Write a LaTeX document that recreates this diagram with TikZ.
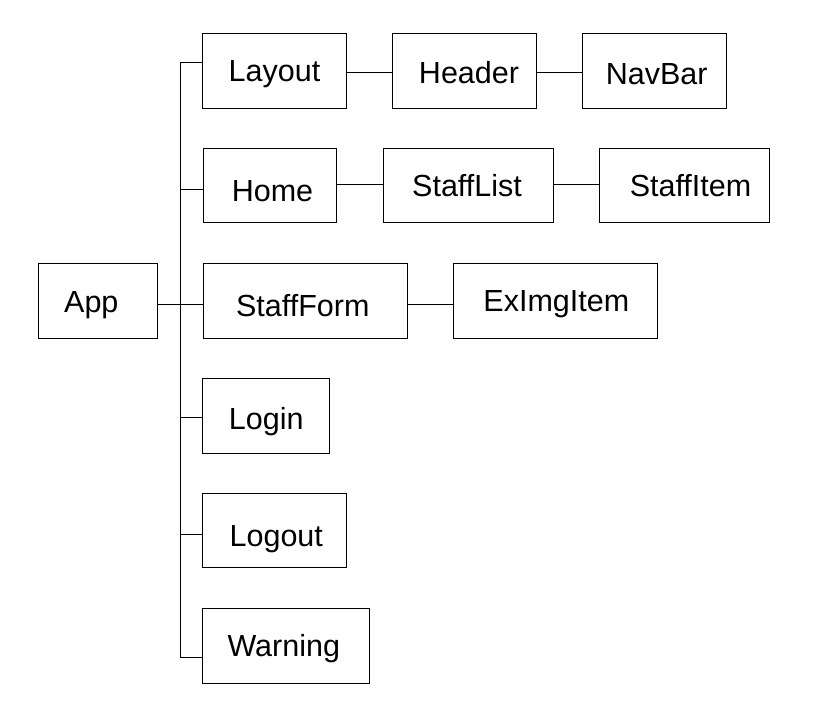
\documentclass[tikz,border=0pt]{standalone}
\usepackage{fontspec}
\setmainfont{Liberation Sans}
\begin{document}
\begin{tikzpicture}[x=1pt,y=-1pt,
  box/.style={draw=black, line width=1pt, inner sep=0pt},
  lbl/.style={inner sep=0pt, text height=22pt, text depth=0pt,
    font=\fontsize{30.5}{36}\selectfont},
  conn/.style={draw=black, line width=1pt}]
\useasboundingbox[fill=white] (0,0) rectangle (813,715);
% boxes
\node[box, minimum width=119.4pt, minimum height=75pt] (App) at (98,300.8) {};
\node[box, minimum width=144.4pt, minimum height=75pt] (Layout) at (274.5,70.8) {};
\node[box, minimum width=144pt, minimum height=75pt] (Header) at (464.7,70.8) {};
\node[box, minimum width=143.7pt, minimum height=75pt] (NavBar) at (654.2,70.8) {};
\node[box, minimum width=133.4pt, minimum height=74.4pt] (Home) at (270,185.5) {};
\node[box, minimum width=170pt, minimum height=74.4pt] (StaffList) at (468.3,185.5) {};
\node[box, minimum width=170pt, minimum height=74.4pt] (StaffItem) at (684.3,185.5) {};
\node[box, minimum width=204.4pt, minimum height=75pt] (StaffForm) at (305.5,300.8) {};
\node[box, minimum width=204pt, minimum height=75pt] (ExImgItem) at (555.3,300.8) {};
\node[box, minimum width=127.4pt, minimum height=74.7pt] (Login) at (266,415.7) {};
\node[box, minimum width=144.4pt, minimum height=74.4pt] (Logout) at (274.5,530.5) {};
\node[box, minimum width=167pt, minimum height=74.7pt] (Warning) at (285.8,645.7) {};
% labels
\node[lbl] (App-t) at ([shift={(-6.7,0.9)}]App.center) {App};
\node[lbl] (Layout-t) at (Layout.center) {Layout};
\node[lbl] (Header-t) at ([shift={(4.3,1.7)}]Header.center) {Header};
\node[lbl] (NavBar-t) at ([shift={(2.5,2.5)}]NavBar.center) {NavBar};
\node[lbl] (Home-t) at ([shift={(2.5,4.8)}]Home.center) {Home};
\node[lbl] (StaffList-t) at ([shift={(-1.3,0.3)}]StaffList.center) {StaffList};
\node[lbl] (StaffItem-t) at ([shift={(6.2,0.3)}]StaffItem.center) {StaffItem};
\node[lbl] (StaffForm-t) at ([shift={(-2.7,4.7)}]StaffForm.center) {StaffForm};
\node[lbl] (ExImgItem-t) at ([shift={(1,0)}]ExImgItem.center) {ExImgItem};
\node[lbl] (Login-t) at ([shift={(0.2,3.1)}]Login.center) {Login};
\node[lbl] (Logout-t) at ([shift={(1.8,5)}]Logout.center) {Logout};
\node[lbl] (Warning-t) at ([shift={(-2,0.1)}]Warning.center) {Warning};
% bus points
\coordinate (b1) at (180,62.7);
\coordinate (b2) at (180,189);
\coordinate (b3) at (180,304);
\coordinate (b4) at (180,417.7);
\coordinate (b5) at (180,534.3);
\coordinate (b6) at (180,657.3);
% row levels for right-hand connectors
\coordinate (r1) at (0,72.7);
\coordinate (r2) at (0,184.3);
\coordinate (r3) at (0,304);
% bus
\draw[conn] (b1) -- (b6);
\draw[conn] (b1) -- (b1 -| Layout.west);
\draw[conn] (b2) -- (b2 -| Home.west);
\draw[conn] (b3 -| App.east) -- (b3 -| StaffForm.west);
\draw[conn] (b4) -- (b4 -| Login.west);
\draw[conn] (b5) -- (b5 -| Logout.west);
\draw[conn] (b6) -- (b6 -| Warning.west);
% chains
\draw[conn] (r1 -| Layout.east) -- (r1 -| Header.west);
\draw[conn] (r1 -| Header.east) -- (r1 -| NavBar.west);
\draw[conn] (r2 -| Home.east) -- (r2 -| StaffList.west);
\draw[conn] (r2 -| StaffList.east) -- (r2 -| StaffItem.west);
\draw[conn] (r3 -| StaffForm.east) -- (r3 -| ExImgItem.west);
\end{tikzpicture}
\end{document}
